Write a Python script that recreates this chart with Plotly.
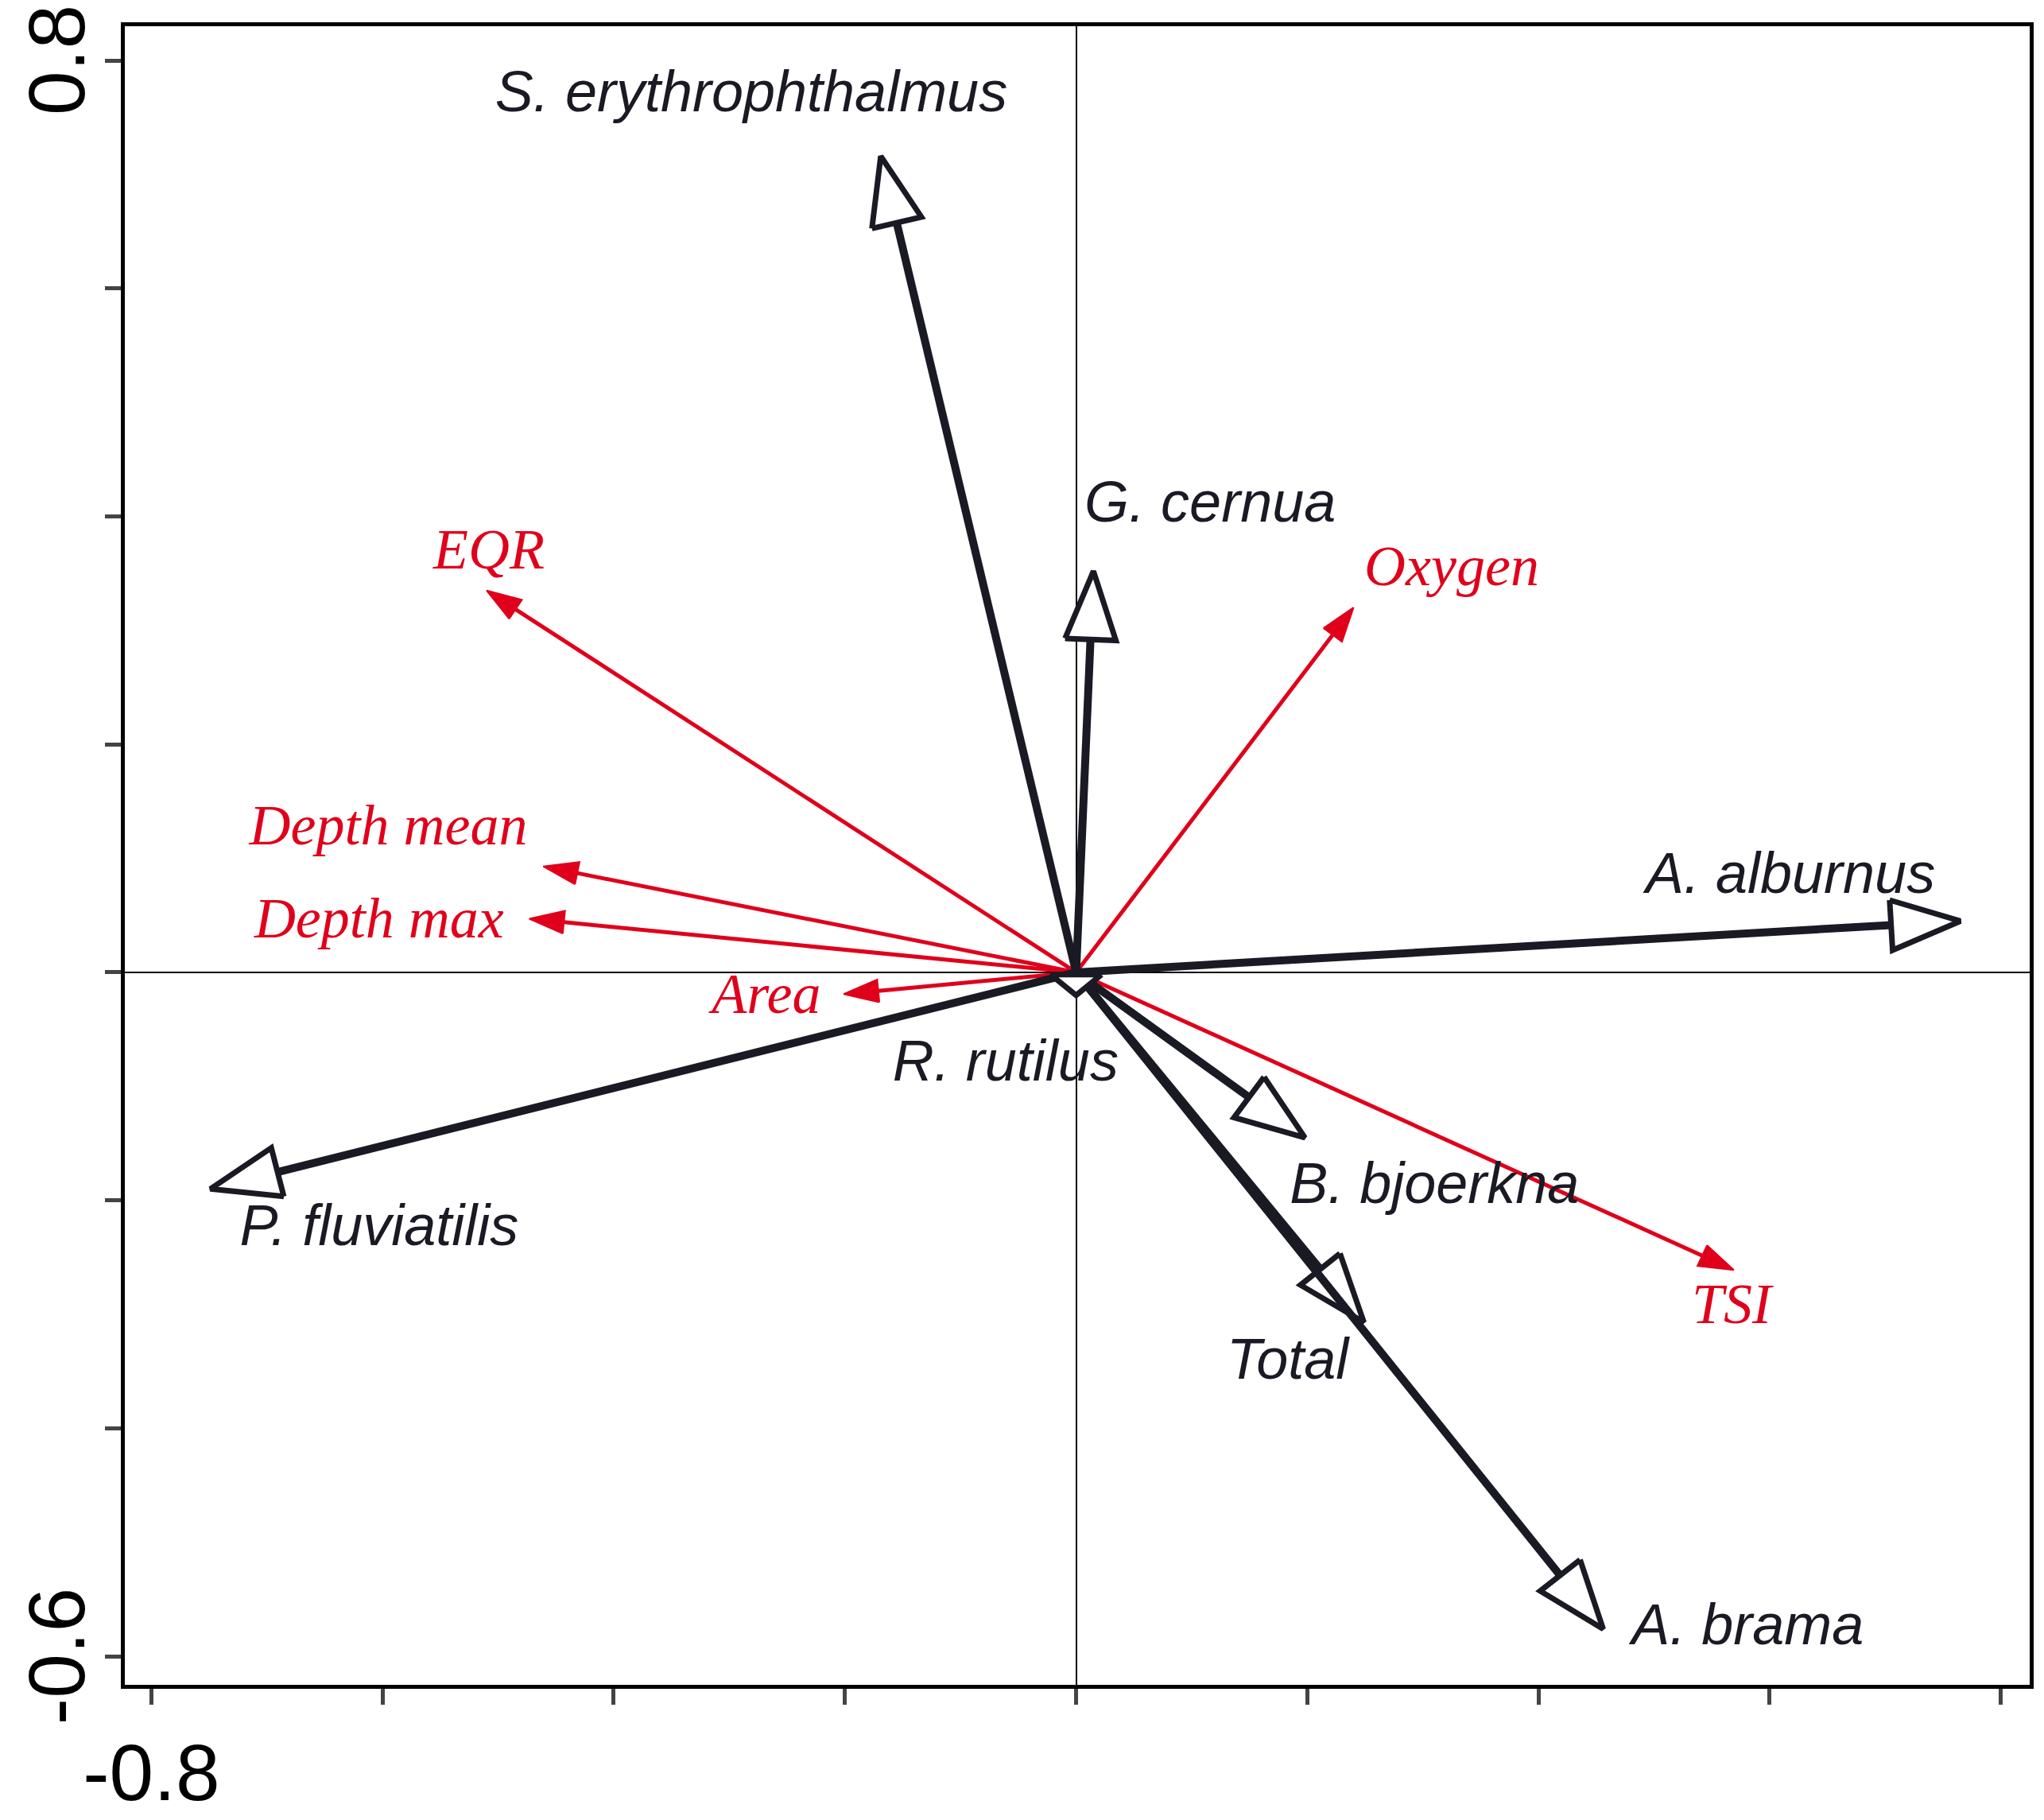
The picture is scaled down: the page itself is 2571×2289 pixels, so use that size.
import numpy as np
import plotly.graph_objects as go

sp_names = ["S. erythrophthalmus", "G. cernua", "A. alburnus", "P. fluviatilis",
            "B. bjoerkna", "Total", "A. brama", "R. rutilus"]
sp_x = [-0.169, 0.015, 0.765, -0.749, 0.198, 0.249, 0.456, 0.0]
sp_y = [0.716, 0.352, 0.045, -0.190, -0.145, -0.307, -0.576, -0.02]
sp_lx = [-0.281, 0.116, 0.618, -0.603, 0.310, 0.183, 0.581, -0.061]
sp_ly = [0.768, 0.408, 0.082, -0.227, -0.190, -0.344, -0.577, -0.082]

env_names = ["EQR", "Oxygen", "Depth mean", "Depth max", "Area", "TSI"]
env_x = [-0.510, 0.240, -0.461, -0.473, -0.201, 0.569]
env_y = [0.335, 0.320, 0.093, 0.047, -0.019, -0.261]
env_lx = [-0.508, 0.325, -0.595, -0.603, -0.268, 0.567]
env_ly = [0.367, 0.352, 0.125, 0.043, -0.023, -0.295]

xticks = [-0.8, -0.6, -0.4, -0.2, 0.0, 0.2, 0.4, 0.6, 0.8]
yticks = [-0.6, -0.4, -0.2, 0.0, 0.2, 0.4, 0.6, 0.8]
ylabeled = [-0.6, 0.8]

fig = go.Figure()

def head(x, y, L, W):
    d = np.array([x, y]); n = np.linalg.norm(d)
    u = d / n; p = np.array([-u[1], u[0]])
    b = d - u * min(L, n * 0.9)
    a = b + p * W; c = b - p * W
    return [a[0], x, c[0], a[0]], [a[1], y, c[1], a[1]], b

BLACK = "#1a1a24"
RED = "#e0001b"
for x, y in zip(env_x, env_y):
    hx, hy, b = head(x, y, 0.03, 0.01)
    fig.add_trace(go.Scatter(x=[0, b[0]], y=[0, b[1]], mode="lines",
                             line=dict(color=RED, width=5), hoverinfo="skip"))
    fig.add_trace(go.Scatter(x=hx, y=hy, mode="lines", fill="toself", fillcolor=RED,
                             line=dict(color=RED, width=2), hoverinfo="skip"))
for x, y in zip(sp_x, sp_y):
    hx, hy, b = head(x, y, 0.06, 0.022)
    fig.add_trace(go.Scatter(x=[0, b[0]], y=[0, b[1]], mode="lines",
                             line=dict(color=BLACK, width=10), hoverinfo="skip"))
    fig.add_trace(go.Scatter(x=hx, y=hy, mode="lines", fill="toself", fillcolor="white",
                             line=dict(color=BLACK, width=7), hoverinfo="skip"))

fig.add_trace(go.Scatter(x=sp_lx, y=sp_ly, mode="text", text=sp_names,
                         textfont=dict(family="Liberation Sans", size=72, color=BLACK, style="italic")))
fig.add_trace(go.Scatter(x=env_lx, y=env_ly, mode="text", text=env_names,
                         textfont=dict(family="Liberation Serif", size=72, color=RED, style="italic")))

xt = ["-0.8" if v == -0.8 else ("0.8" if v == 0.8 else "") for v in xticks]

for v in ylabeled:
    fig.add_annotation(x=0, xref="paper", y=v, yref="y", text=("%.1f" % v),
                       textangle=-90, showarrow=False, xanchor="right", yanchor="middle",
                       xshift=-28, font=dict(family="Liberation Sans", size=100, color="black"))

fig.update_layout(
    width=2571, height=2289, showlegend=False,
    plot_bgcolor="white", paper_bgcolor="white",
    margin=dict(l=149, r=26, t=25, b=149),
    font=dict(family="Liberation Sans", color="black"),
    xaxis=dict(range=[-0.823, 0.825], tickvals=xticks, ticktext=xt, ticks="outside",
               ticklen=20, tickwidth=5, showgrid=False, zeroline=True, zerolinewidth=1.5,
               zerolinecolor="black", showline=True, mirror=True, linewidth=5, linecolor="black",
               tickfont=dict(size=100)),
    yaxis=dict(range=[-0.625, 0.83], tickvals=yticks, ticktext=[""] * len(yticks), ticks="outside",
               ticklen=20, tickwidth=5, showgrid=False, zeroline=True, zerolinewidth=1.5,
               zerolinecolor="black", showline=True, mirror=True, linewidth=5, linecolor="black"),
)
fig.write_html("out.html")
